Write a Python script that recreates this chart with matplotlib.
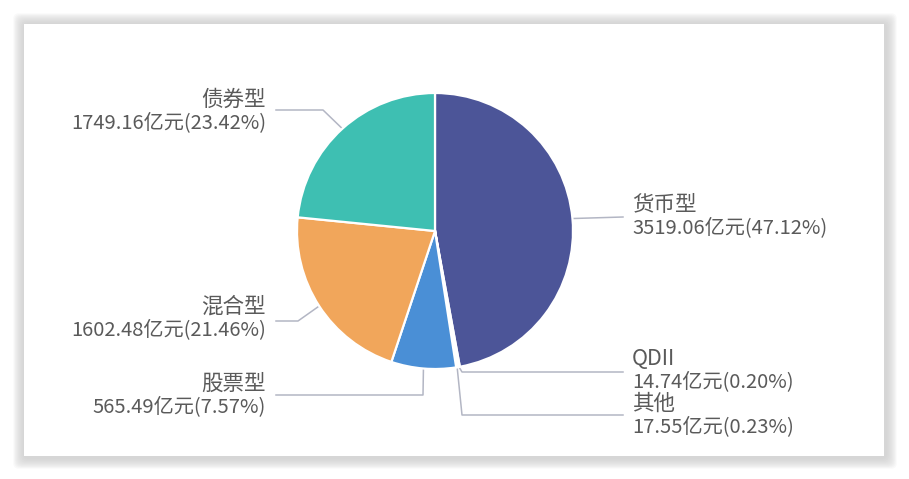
import numpy as np
import matplotlib.pyplot as plt
from matplotlib.patches import FancyBboxPatch, Rectangle

plt.rcParams['font.family'] = ['Noto Sans CJK SC', 'DejaVu Sans']

# 数据
categories = ['货币型', 'QDII', '其他', '股票型', '混合型', '债券型']
amounts = [3519.06, 14.74, 17.55, 565.49, 1602.48, 1749.16]
shares = [47.12, 0.20, 0.23, 7.57, 21.46, 23.42]
colors = ['#4c5598', '#8d98b3', '#c5cbd9', '#4a8fd6', '#f1a65b', '#3ebfb2']

W, H = 909, 479
fig = plt.figure(figsize=(W / 100, H / 100), dpi=100)
ax = fig.add_axes([0, 0, 1, 1])
ax.set_xlim(0, W)
ax.set_ylim(H, 0)
ax.set_aspect('equal')
ax.axis('off')

# 阴影边框
for i in range(12):
    d = 12 - i
    ax.add_patch(FancyBboxPatch((24 - d * 0.9, 24 - d * 0.9), 860 + d * 1.8 + 2, 432 + d * 1.8 + 2,
                                boxstyle='round,pad=0,rounding_size=6', lw=0,
                                fc='#c8c8c8', alpha=0.09, zorder=0))
ax.add_patch(Rectangle((24, 24), 860, 432, fc='white', lw=0, zorder=1))

cx, cy, r = 435, 231, 138
wedges, _ = ax.pie(shares, colors=colors, startangle=-90, counterclock=True,
                   center=(cx, cy), radius=r, frame=True,
                   wedgeprops=dict(edgecolor='white', linewidth=1.6))
for w in wedges:
    w.set_zorder(3)
ax.set_xlim(0, W)
ax.set_ylim(H, 0)
ax.axis('off')

# 标签引导线位置
layout = [
    ([(623, 217)], 632, 205, 'left'),
    ([(462, 372), (623, 372)], 632, 359, 'left'),
    ([(462, 415), (623, 415)], 632, 404, 'left'),
    ([(423, 395), (276, 395)], 266, 384, 'right'),
    ([(298, 321), (276, 321)], 266, 307, 'right'),
    ([(323, 110), (276, 110)], 266, 100, 'right'),
]

line_c = '#b3b6c4'
text_c = '#5a5a5a'
for w, name, amt, pct, (pts, tx, ty, ha) in zip(wedges, categories, amounts, shares, layout):
    a = np.deg2rad((w.theta1 + w.theta2) / 2)
    x0, y0 = cx + r * np.cos(a), cy + r * np.sin(a)
    xs = [x0] + [p[0] for p in pts]
    ys = [y0] + [p[1] for p in pts]
    ax.plot(xs, ys, color=line_c, lw=1.1, zorder=2)
    ax.text(tx, ty, name, ha=ha, va='center', fontsize=15.5, color=text_c, zorder=4)
    ax.text(tx, ty + 22.5, f'{amt:.2f}亿元({pct:.2f}%)', ha=ha, va='center',
            fontsize=14.5, color=text_c, zorder=4)

fig.savefig('out.png', dpi=100, facecolor='white')
